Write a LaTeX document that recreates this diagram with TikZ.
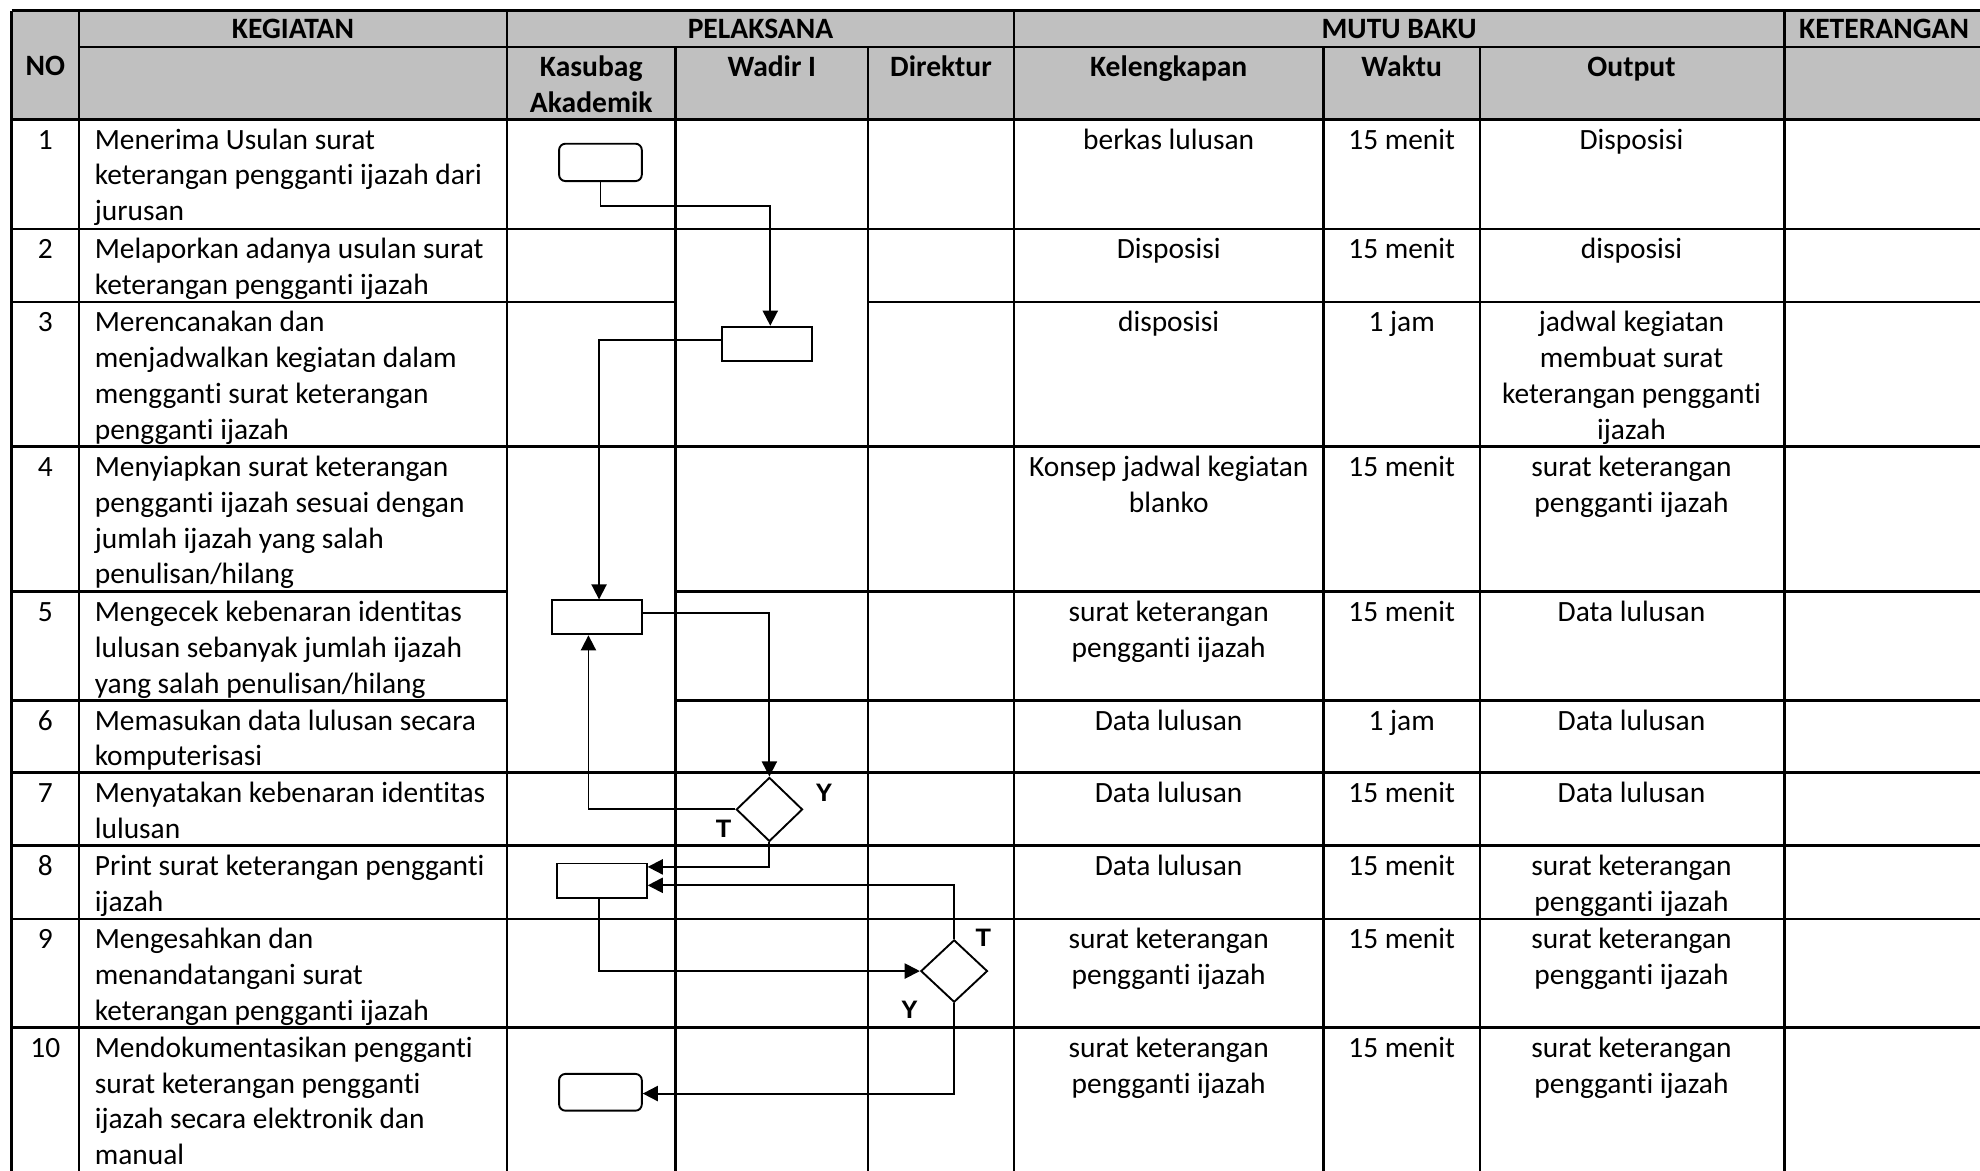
\documentclass[tikz,border=0pt]{standalone}
\usepackage{fontspec}
\setmainfont{Carlito}[Ligatures=NoCommon]
\newfontfamily\arialfont{Liberation Sans}
\usetikzlibrary{arrows.meta,shapes.geometric}
\definecolor{hdr}{HTML}{C0C0C0}
\newcommand\rowL[4]{%
  \foreach \t [count=\i from 0] in {#4}{\node[txt,anchor=base west] (#1-\i) at (#2,{#3+23.5+28.4*\i}) {\t};}}
\newcommand\rowC[4]{%
  \foreach \t [count=\i from 0] in {#4}{\node[txt,anchor=base] (#1-\i) at (#2,{#3+23.5+28.4*\i}) {\t};}}
\newcommand\hdC[4]{%
  \foreach \t [count=\i from 0] in {#4}{\node[txt,font=\fontsize{11.7pt}{14pt}\selectfont\bfseries,anchor=base] (#1-\i) at (#2,{#3+28.4*\i}) {\t};}}
\begin{document}
\begin{tikzpicture}[x=0.5pt,y=-0.5pt,
  txt/.style={font=\fontsize{11.65pt}{14pt}\selectfont, inner sep=0pt},
  tbl/.style={line width=1pt},
  box/.style={draw, line width=0.75pt, inner sep=0pt},
  rbox/.style={box, rounded corners=2.5pt},
  dec/.style={draw, diamond, line width=0.75pt, inner sep=0pt},
  arr/.style={line width=0.75pt, -{Triangle[length=6pt,width=6pt]}},
  lbl/.style={font=\arialfont\bfseries\fontsize{10pt}{12pt}\selectfont, inner sep=0pt}]
\useasboundingbox (0,0) rectangle (1568,926.6);
% header fill
\fill[hdr] (9.2,8.4) rectangle (1575,94.5);
% vertical lines
\foreach \x in {9.2,62.6,401.5,803,1413,1571}{\draw[tbl] (\x,8.4) -- (\x,940);}
\foreach \x in {535,687.5,1048,1172}{\draw[tbl] (\x,37.2) -- (\x,940);}
% horizontal lines
\draw[tbl] (9.2,8.4) -- (1575,8.4);
\draw[tbl] (62.6,37.2) -- (1575,37.2);
\foreach \y in {94.5,181.4,353.7,611.8,669.7,727.6,813.7}{\draw[tbl] (9.2,\y) -- (1575,\y);}
\draw[tbl] (9.2,239) -- (535,239);
\draw[tbl] (687.5,239) -- (1575,239);
\foreach \y in {468.5,554.6}{\draw[tbl] (9.2,\y) -- (401.5,\y); \draw[tbl] (535,\y) -- (1575,\y);}
% header text
\hdC{hno}{35.9}{60}{NO}
\hdC{hkeg}{232}{30.5}{KEGIATAN}
\hdC{hpel}{602.2}{30.5}{PELAKSANA}
\hdC{hmut}{1108}{30.5}{MUTU BAKU}
\hdC{hket}{1492}{30.5}{KETERANGAN}
\hdC{hkas}{468.2}{60.5}{Kasubag,Akademik}
\hdC{hwad}{611.2}{60.5}{Wadir I}
\hdC{hdir}{745.2}{60.5}{Direktur}
\hdC{hkel}{925.5}{60.5}{Kelengkapan}
\hdC{hwak}{1110}{60.5}{Waktu}
\hdC{hout}{1292}{60.5}{Output}
% numbers
\rowC{n1}{35.9}{94.5}{1}
\rowC{n2}{35.9}{181.4}{2}
\rowC{n3}{35.9}{239}{3}
\rowC{n4}{35.9}{353.7}{4}
\rowC{n5}{35.9}{468.5}{5}
\rowC{n6}{35.9}{554.6}{6}
\rowC{n7}{35.9}{611.8}{7}
\rowC{n8}{35.9}{669.7}{8}
\rowC{n9}{35.9}{727.6}{9}
\rowC{n10}{35.9}{813.7}{10}
% kegiatan
\rowL{k1}{74.7}{94.5}{Menerima Usulan surat,keterangan pengganti ijazah dari,jurusan}
\rowL{k2}{74.7}{181.4}{Melaporkan adanya usulan surat,keterangan pengganti ijazah}
\rowL{k3}{74.7}{239}{Merencanakan dan,menjadwalkan kegiatan dalam,mengganti surat keterangan,pengganti ijazah}
\rowL{k4}{74.7}{353.7}{Menyiapkan surat keterangan,pengganti ijazah sesuai dengan,jumlah ijazah yang salah,penulisan/hilang}
\rowL{k5}{74.7}{468.5}{Mengecek kebenaran identitas,lulusan sebanyak jumlah ijazah,yang salah penulisan/hilang}
\rowL{k6}{74.7}{554.6}{Memasukan data lulusan secara,komputerisasi}
\rowL{k7}{74.7}{611.8}{Menyatakan kebenaran identitas,lulusan}
\rowL{k8}{74.7}{669.7}{Print surat keterangan pengganti,ijazah}
\rowL{k9}{74.7}{727.6}{Mengesahkan dan,menandatangani surat,keterangan pengganti ijazah}
\rowL{k10}{74.7}{813.7}{Mendokumentasikan pengganti,surat keterangan pengganti,ijazah secara elektronik dan,manual}
% kelengkapan
\rowC{l1}{925.5}{94.5}{berkas lulusan}
\rowC{l2}{925.5}{181.4}{Disposisi}
\rowC{l3}{925.5}{239}{disposisi}
\rowC{l4}{925.5}{353.7}{Konsep jadwal kegiatan,blanko}
\rowC{l5}{925.5}{468.5}{surat keterangan,pengganti ijazah}
\rowC{l6}{925.5}{554.6}{Data lulusan}
\rowC{l7}{925.5}{611.8}{Data lulusan}
\rowC{l8}{925.5}{669.7}{Data lulusan}
\rowC{l9}{925.5}{727.6}{surat keterangan,pengganti ijazah}
\rowC{l10}{925.5}{813.7}{surat keterangan,pengganti ijazah}
% waktu
\rowC{w1}{1110}{94.5}{15 menit}
\rowC{w2}{1110}{181.4}{15 menit}
\rowC{w3}{1110}{239}{1 jam}
\rowC{w4}{1110}{353.7}{15 menit}
\rowC{w5}{1110}{468.5}{15 menit}
\rowC{w6}{1110}{554.6}{1 jam}
\rowC{w7}{1110}{611.8}{15 menit}
\rowC{w8}{1110}{669.7}{15 menit}
\rowC{w9}{1110}{727.6}{15 menit}
\rowC{w10}{1110}{813.7}{15 menit}
% output
\rowC{o1}{1292}{94.5}{Disposisi}
\rowC{o2}{1292}{181.4}{disposisi}
\rowC{o3}{1292}{239}{jadwal kegiatan,membuat surat,keterangan pengganti,ijazah}
\rowC{o4}{1292}{353.7}{surat keterangan,pengganti ijazah}
\rowC{o5}{1292}{468.5}{Data lulusan}
\rowC{o6}{1292}{554.6}{Data lulusan}
\rowC{o7}{1292}{611.8}{Data lulusan}
\rowC{o8}{1292}{669.7}{surat keterangan,pengganti ijazah}
\rowC{o9}{1292}{727.6}{surat keterangan,pengganti ijazah}
\rowC{o10}{1292}{813.7}{surat keterangan,pengganti ijazah}
% flowchart shapes
\node[rbox, minimum width=32.75pt, minimum height=14.8pt] (s1) at (475.5,128.6) {};
\node[box, minimum width=35.65pt, minimum height=13.6pt] (s3) at (607.2,272.3) {};
\node[box, minimum width=35.4pt, minimum height=13.45pt] (s5) at (472.8,488.9) {};
\node[dec, minimum width=26.25pt, minimum height=25.35pt] (d7) at (609.3,641) {};
\node[box, minimum width=35.65pt, minimum height=13.8pt] (s8) at (476.5,697.6) {};
\node[dec, minimum width=26.4pt, minimum height=24.7pt] (d9) at (755.6,769) {};
\node[rbox, minimum width=32.75pt, minimum height=14.55pt] (s10) at (475.5,865) {};
% connectors
\coordinate (c1) at (475.5,163);
\coordinate (c1b) at (610,163);
\draw[arr] (s1.south) -- (c1) -- (c1b) -- (c1b |- s3.north);
\coordinate (c2) at (474.4,269.3);
\draw[arr] (c2 -| s3.west) -- (c2) -- (c2 |- s5.north);
\coordinate (c3) at (609.3,485.7);
\draw[arr] (c3 -| s5.east) -- (c3) -- (d7.north);
\coordinate (c4) at (466,641);
\draw[arr] (d7.west) -- (c4) -- (c4 |- s5.south);
\coordinate (c5) at (609.3,686.5);
\draw[arr] (d7.south) -- (c5) -- (c5 -| s8.east);
\coordinate (c6) at (755.6,701.1);
\draw[arr] (d9.north) -- (c6) -- (c6 -| s8.east);
\coordinate (c7) at (474.7,769);
\draw[arr] (c7 |- s8.south) -- (c7) -- (d9.west);
\coordinate (c8) at (755.6,866);
\draw[arr] (d9.south) -- (c8) -- (c8 -| s10.east);
% labels
\node[lbl] (t7) at (573,656) {T};
\node[lbl] (y7) at (652.6,628) {Y};
\node[lbl] (t9) at (778.8,743) {T};
\node[lbl] (y9) at (720.2,799.7) {Y};
\end{tikzpicture}
\end{document}
